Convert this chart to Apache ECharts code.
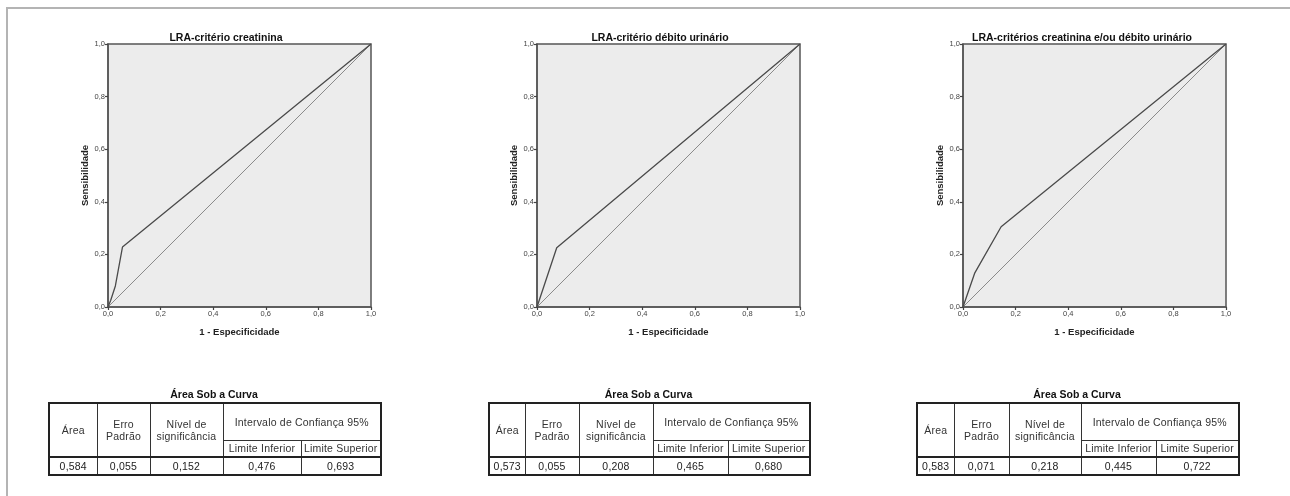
<!DOCTYPE html>
<html><head><meta charset="utf-8">
<script src="https://cdn.jsdelivr.net/npm/echarts@6/dist/echarts.min.js"></script>
<style>
html,body{margin:0;padding:0;background:#fff;}
#wrap{position:relative;width:1290px;height:496px;overflow:hidden;font-family:"Liberation Sans",Arial,sans-serif;}
#chart{position:absolute;left:0;top:0;width:1290px;height:496px;}
#frame{position:absolute;left:6px;top:7px;width:1290px;height:500px;border-top:2px solid #b4b4b4;border-left:2px solid #b4b4b4;}
.tt{position:absolute;font-weight:bold;font-size:10.5px;color:#111;text-align:center;}
table.auc{position:absolute;border-collapse:collapse;table-layout:fixed;border:2px solid #222;font-size:10.5px;letter-spacing:0.2px;color:#333;}
table.auc td{border:1px solid #333;text-align:center;padding:0;line-height:12px;white-space:nowrap;overflow:hidden;}
table.auc tr.data td{border-top:2px solid #222;color:#222;}
</style></head>
<body><div id="wrap"><div id="frame"></div><div id="chart"></div></div>
<script>
// ---- data ----
const chartTitles = ["LRA-critério creatinina", "LRA-critério débito urinário", "LRA-critérios creatinina e/ou débito urinário"];
const xAxisName = "1 - Especificidade";
const yAxisName = "Sensibilidade";
const tickValues = [0, 0.2, 0.4, 0.6, 0.8, 1.0];
const refLine = [[0, 0], [1, 1]];
const rocCreatinina = [[0, 0], [0.01, 0.025], [0.028, 0.08], [0.055, 0.228], [1, 1]];
const rocDebito = [[0, 0], [0.075, 0.225], [1, 1]];
const rocAmbos = [[0, 0], [0.045, 0.13], [0.145, 0.305], [1, 1]];
const tableTitle = "Área Sob a Curva";
const tableHeaders = ["Área", "Erro<br>Padrão", "Nível de<br>significância", "Intervalo de Confiança 95%", "Limite Inferior", "Limite Superior"];
const aucCreatinina = ["0,584", "0,055", "0,152", "0,476", "0,693"];
const aucDebito = ["0,573", "0,055", "0,208", "0,465", "0,680"];
const aucAmbos = ["0,583", "0,071", "0,218", "0,445", "0,722"];

const rocs = [rocCreatinina, rocDebito, rocAmbos];
const aucs = [aucCreatinina, aucDebito, aucAmbos];

// ---- layout ----
const gridLefts = [108, 537, 963];
const gridTop = 44, gridSize = 263;
const titleCenters = [221, 655, 1077];
const tableCols = [
  [48, 96, 149, 222, 300, 380],
  [488, 524, 578, 652, 727, 809],
  [916, 953, 1008, 1080, 1155, 1238]
];

const chart = echarts.init(document.getElementById('chart'), null, {renderer: 'canvas'});
const fmt = v => v.toFixed(1).replace('.', ',');
const grids = [], xAxes = [], yAxes = [], series = [], titles = [];
for (let i = 0; i < 3; i++) {
  grids.push({left: gridLefts[i], top: gridTop, width: gridSize, height: gridSize, show: true,
    backgroundColor: '#ececec', borderColor: '#555', borderWidth: 1.5, containLabel: false});
  const axisCommon = {
    type: 'value', min: 0, max: 1, interval: 0.2, gridIndex: i,
    nameLocation: 'middle',
    nameTextStyle: {fontFamily: 'Liberation Sans, Arial', fontWeight: 'bold', fontSize: 9.5, color: '#222'},
    axisLine: {show: true, onZero: false, lineStyle: {color: '#555', width: 1.5}},
    axisTick: {show: true, length: 3, lineStyle: {color: '#444', width: 1.2}},
    axisLabel: {formatter: fmt, fontSize: 7.5, color: '#444', fontFamily: 'Liberation Sans, Arial', margin: 3},
    splitLine: {show: false}
  };
  xAxes.push(Object.assign({}, axisCommon, {name: xAxisName, nameGap: 20}));
  yAxes.push(Object.assign({}, axisCommon, {name: yAxisName, nameGap: 18}));
  series.push({type: 'line', xAxisIndex: i, yAxisIndex: i, data: refLine, symbol: 'none',
    lineStyle: {color: '#8a8a8a', width: 1}, silent: true, z: 2});
  series.push({type: 'line', xAxisIndex: i, yAxisIndex: i, data: rocs[i], symbol: 'none',
    lineStyle: {color: '#4a4a4a', width: 1.3}, silent: true, z: 3});
  titles.push({text: chartTitles[i], left: titleCenters[i], top: 28, textAlign: 'center',
    textStyle: {fontFamily: 'Liberation Sans, Arial', fontWeight: 'bold', fontSize: 10.5, color: '#111'}});
}
chart.setOption({animation: false, title: titles, grid: grids, xAxis: xAxes, yAxis: yAxes, series: series});

// ---- tables ----
const wrap = document.getElementById('wrap');
for (let i = 0; i < 3; i++) {
  const c = tableCols[i];
  const w = c.map((v, k) => k ? v - c[k - 1] : 0).slice(1);
  const t = document.createElement('div');
  t.className = 'tt';
  t.style.left = c[0] + 'px'; t.style.width = (c[5] - c[0]) + 'px'; t.style.top = '388px';
  t.textContent = tableTitle;
  wrap.appendChild(t);
  const tb = document.createElement('table');
  tb.className = 'auc';
  tb.style.left = c[0] + 'px'; tb.style.top = '402px'; tb.style.width = (c[5] - c[0]) + 'px';
  let h = '<colgroup>' + w.map(x => '<col style="width:' + x + 'px">').join('') + '</colgroup>';
  h += '<tr style="height:37px"><td rowspan="2">' + tableHeaders[0] + '</td><td rowspan="2">' + tableHeaders[1] +
       '</td><td rowspan="2">' + tableHeaders[2] + '</td><td colspan="2">' + tableHeaders[3] + '</td></tr>';
  h += '<tr style="height:17px"><td>' + tableHeaders[4] + '</td><td>' + tableHeaders[5] + '</td></tr>';
  h += '<tr class="data" style="height:18px">' + aucs[i].map(v => '<td>' + v + '</td>').join('') + '</tr>';
  tb.innerHTML = h;
  wrap.appendChild(tb);
}
</script></body></html>
